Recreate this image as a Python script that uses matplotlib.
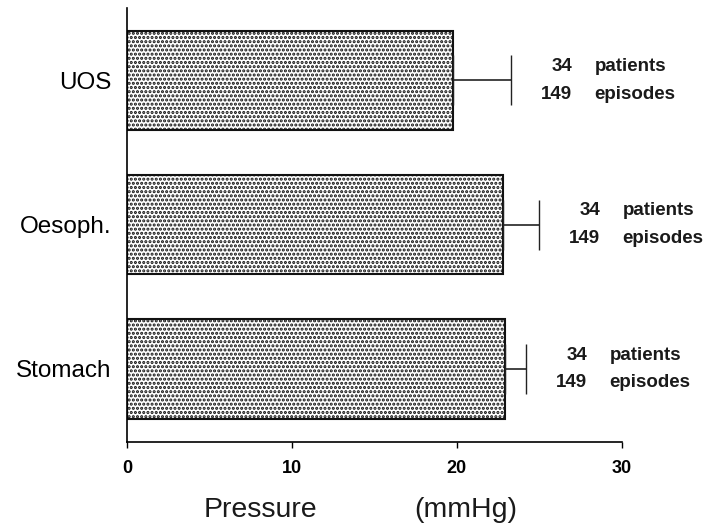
import matplotlib
matplotlib.use("Agg")
import matplotlib.pyplot as plt

# ---- data ----
categories = ["Stomach", "Oesoph.", "UOS"]
means = [22.9, 22.8, 19.8]
errors = [1.3, 2.2, 3.5]
patients = [34, 34, 34]
episodes = [149, 149, 149]
xticks = [0, 10, 20, 30]

plt.rcParams['font.family'] = ['Liberation Sans', 'DejaVu Sans']
plt.rcParams['hatch.linewidth'] = 1.5

fig = plt.figure(figsize=(7.13, 5.24), dpi=100)
ax = fig.add_axes([0.178, 0.1565, 0.694, 0.8285])

ypos = list(range(len(categories)))
ax.barh(ypos, means, height=0.69, color='white', edgecolor='#111111',
        linewidth=1.5, hatch='....', zorder=2)
for y, m, e in zip(ypos, means, errors):
    ax.errorbar(m, y, xerr=[[0], [e]], fmt='none', ecolor='#222222',
                elinewidth=1.2, capsize=18, capthick=1.0, zorder=3)
    ax.annotate(f"{patients[y]}", xy=(m + e, y), xytext=(44, 10),
                textcoords='offset points', ha='right', va='center',
                fontsize=13.5, fontweight='bold', color='#1a1a1a',
                annotation_clip=False)
    ax.annotate("patients", xy=(m + e, y), xytext=(60, 10),
                textcoords='offset points', ha='left', va='center',
                fontsize=13.5, fontweight='bold', color='#1a1a1a',
                annotation_clip=False)
    ax.annotate(f"{episodes[y]}", xy=(m + e, y), xytext=(44, -10),
                textcoords='offset points', ha='right', va='center',
                fontsize=13.5, fontweight='bold', color='#1a1a1a',
                annotation_clip=False)
    ax.annotate("episodes", xy=(m + e, y), xytext=(60, -10),
                textcoords='offset points', ha='left', va='center',
                fontsize=13.5, fontweight='bold', color='#1a1a1a',
                annotation_clip=False)

ax.set_xlim(0, 30)
ax.set_ylim(-0.506, 2.502)
ax.set_xticks(xticks)
ax.set_xticklabels([str(t) for t in xticks], fontsize=13, fontweight='bold')
ax.set_yticks(ypos)
ax.set_yticklabels(categories, fontsize=17.5)
ax.tick_params(axis='y', length=0, pad=11)
ax.tick_params(axis='x', direction='out', length=4, width=1, pad=9)
for s in ['top', 'right']:
    ax.spines[s].set_visible(False)
ax.spines['left'].set_linewidth(1.2)
ax.spines['bottom'].set_linewidth(1.2)

fig.text(260 / 713, 1 - 510 / 524, "Pressure", ha='center', va='center',
         fontsize=20.5, fontweight='medium', color='#1a1a1a')
fig.text(466 / 713, 1 - 510 / 524, "(mmHg)", ha='center', va='center',
         fontsize=20.5, fontweight='medium', color='#1a1a1a')

fig.savefig("out.png", dpi=100)
